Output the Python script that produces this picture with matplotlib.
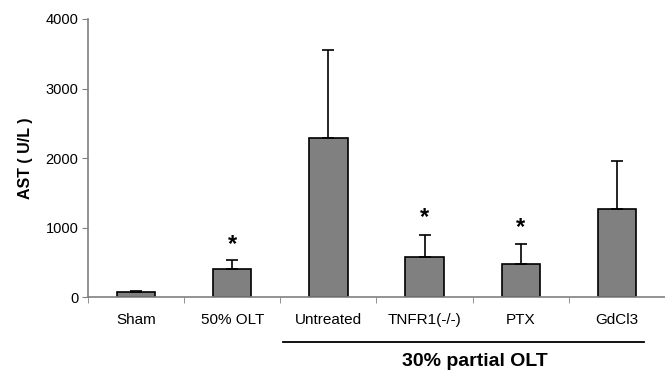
import matplotlib
matplotlib.use("Agg")
import matplotlib.pyplot as plt
import numpy as np

# values
groups = ["Sham", "50% OLT", "Untreated", "TNFR1(-/-)", "PTX", "GdCl3"]
ast_mean = [75, 410, 2290, 575, 475, 1270]
ast_err = [20, 130, 1270, 315, 290, 690]
star_y = [None, 765, None, 1150, 1000, None]
yticks = [0, 1000, 2000, 3000, 4000]

plt.rcParams['font.family'] = ['Liberation Sans', 'DejaVu Sans']

fig = plt.figure(figsize=(6.65, 3.7), dpi=100)
ax = fig.add_axes([88 / 665, 72.7 / 370, 577 / 665, 278.3 / 370])

x = np.arange(len(groups))
ax.bar(x, ast_mean, width=0.4, color="#808080", edgecolor="black", linewidth=1.2, zorder=2)
ax.errorbar(x, ast_mean, yerr=[np.zeros(len(ast_err)), ast_err], fmt="none",
            ecolor="black", elinewidth=1.2, capsize=4.5, capthick=1.2, zorder=3)

for xi, sy in zip(x, star_y):
    if sy is not None:
        ax.text(xi, sy, "*", ha="center", va="center", fontsize=17, fontweight="bold")

ax.set_xlim(-0.5, len(groups) - 0.5)
ax.set_ylim(0, 4000)
ax.set_yticks(yticks)
ax.set_yticklabels([str(t) for t in yticks], fontsize=10.5)
ax.tick_params(axis="y", direction="out", length=4, color="#808080", pad=3)

ax.set_xticks(x)
ax.set_xticklabels(groups, fontsize=11)
ax.tick_params(axis="x", which="major", length=0, pad=11)
ax.set_xticks(np.arange(-0.5, len(groups), 1.0), minor=True)
ax.tick_params(axis="x", which="minor", direction="out", length=4, color="#808080")

for s in ["top", "right"]:
    ax.spines[s].set_visible(False)
for s in ["left", "bottom"]:
    ax.spines[s].set_color("#808080")
    ax.spines[s].set_linewidth(1.2)
ax.spines["bottom"].set_clip_on(False)

ax.set_ylabel("AST ( U/L )", fontsize=11.5, fontweight="bold", labelpad=9)

# group bracket under the 30% partial OLT bars
fig.add_artist(plt.Line2D([283 / 665, 644 / 665], [1 - 342 / 370, 1 - 342 / 370],
                          color="black", linewidth=1.3))
fig.text(475 / 665, 1 - 361 / 370, "30% partial OLT", ha="center", va="center",
         fontsize=14, fontweight="bold")

fig.savefig("out.png", dpi=100)
